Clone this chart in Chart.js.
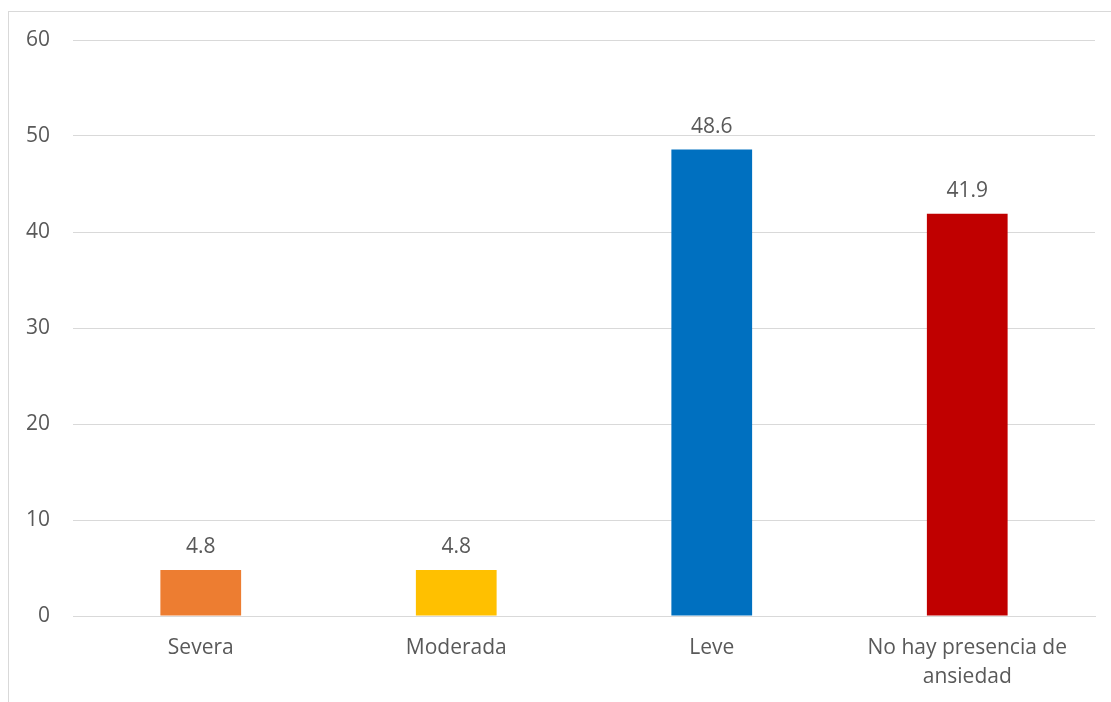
<!DOCTYPE html>
<html>
<head>
<meta charset="utf-8">
<script src="https://cdn.jsdelivr.net/npm/chart.js@4"></script>
<style>
  html, body { margin: 0; padding: 0; background: #fff; overflow: hidden; }
  #frame {
    position: absolute; left: 8px; top: 11px; width: 1200px; height: 800px;
    border-left: 1px solid #d9d9d9; border-top: 1px solid #d9d9d9;
  }
  #wrap { position: absolute; left: 0; top: 0; width: 1111px; height: 702px; }
</style>
</head>
<body>
<div id="frame"></div>
<div id="wrap"><canvas id="chart"></canvas></div>
<script>
const categories = ["Severa", "Moderada", "Leve", ["No hay presencia de", "ansiedad"]];
const values = [4.8, 4.8, 48.6, 41.9];
const barColors = ["#ED7D31", "#FFC000", "#0070C0", "#C00000"];
const yTicks = [0, 10, 20, 30, 40, 50, 60];

const textColor = "#595959";
const fontFamily = "'Open Sans', 'Noto Sans', sans-serif";

// draws the value above each bar
const valueLabels = {
  id: "valueLabels",
  afterDatasetsDraw(chart) {
    const ctx = chart.ctx;
    const meta = chart.getDatasetMeta(0);
    ctx.save();
    ctx.fillStyle = textColor;
    ctx.font = "21px " + fontFamily;
    ctx.textAlign = "center";
    ctx.textBaseline = "bottom";
    meta.data.forEach((bar, i) => {
      ctx.fillText(values[i].toFixed(1), bar.x, bar.y - 12);
    });
    ctx.restore();
  }
};

new Chart(document.getElementById("chart"), {
  type: "bar",
  data: {
    labels: categories,
    datasets: [{
      data: values,
      backgroundColor: barColors,
      barPercentage: 0.316,
      categoryPercentage: 1
    }]
  },
  options: {
    responsive: true,
    maintainAspectRatio: false,
    animation: false,
    layout: { padding: { left: 0, right: 16, top: 40, bottom: 0 } },
    plugins: { legend: { display: false }, tooltip: { enabled: false } },
    scales: {
      x: {
        grid: { display: false },
        border: { display: true, color: "#d9d9d9", width: 1 },
        ticks: {
          color: textColor,
          font: { family: fontFamily, size: 21, lineHeight: 1.35 },
          padding: 10,
          maxRotation: 0,
          autoSkip: false
        },
        afterFit(axis) { axis.height = 86; }
      },
      y: {
        min: 0,
        max: 60,
        afterBuildTicks(axis) { axis.ticks = yTicks.map(v => ({ value: v })); },
        grid: { color: "#d9d9d9", lineWidth: 1, drawTicks: false },
        border: { display: false },
        ticks: {
          color: textColor,
          font: { family: fontFamily, size: 21 },
          padding: 23
        },
        afterFit(axis) { axis.width = 73; }
      }
    }
  },
  plugins: [valueLabels]
});
</script>
</body>
</html>
